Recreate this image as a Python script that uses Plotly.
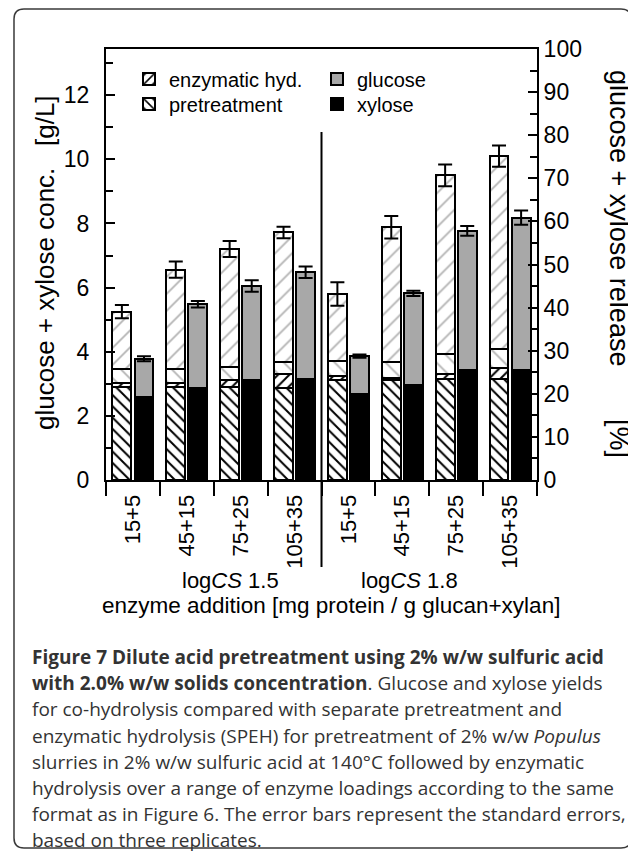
import plotly.graph_objects as go

# ---------------- data ----------------
categories = ["15+5", "45+15", "75+25", "105+35", "15+5", "45+15", "75+25", "105+35"]
group_labels = ["log<i>CS</i> 1.5", "log<i>CS</i> 1.8"]

# SPEH bars (left of each pair), g/L
pre_xylose = [2.90, 2.90, 2.90, 2.88, 3.12, 3.13, 3.15, 3.15]
enz_xylose = [0.13, 0.13, 0.21, 0.42, 0.11, 0.06, 0.17, 0.35]
pre_glucose = [0.42, 0.44, 0.42, 0.38, 0.48, 0.49, 0.62, 0.58]
enz_glucose = [1.80, 3.09, 3.67, 4.04, 2.09, 4.20, 5.56, 6.02]
speh_err = [0.21, 0.25, 0.25, 0.18, 0.37, 0.35, 0.34, 0.33]

# co-hydrolysis bars (right of each pair), g/L
co_xylose = [2.59, 2.87, 3.11, 3.15, 2.69, 2.95, 3.44, 3.42]
co_glucose = [1.19, 2.61, 2.94, 3.33, 1.17, 2.87, 4.33, 4.76]
co_err = [0.08, 0.10, 0.18, 0.18, 0.05, 0.08, 0.15, 0.22]

conc_max = 13.44      # g/L that corresponds to 100 % release
pct_max = 100

caption_lines = [
    "<b>Figure 7 Dilute acid pretreatment using 2% w/w sulfuric acid</b>",
    "<b>with 2.0% w/w solids concentration</b>. Glucose and xylose yields",
    "for co-hydrolysis compared with separate pretreatment and",
    "enzymatic hydrolysis (SPEH) for pretreatment of 2% w/w <i>Populus</i>",
    "slurries in 2% w/w sulfuric acid at 140°C followed by enzymatic",
    "hydrolysis over a range of enzyme loadings according to the same",
    "format as in Figure 6. The error bars represent the standard errors,",
    "based on three replicates.",
]

# ---------------- layout geometry ----------------
OFF = 8                      # page margin of the html body
W, H = 628, 844
L, R, T, B = 98, 99, 41, 372
PW, PH = W - L - R, H - T - B
FONT = "Liberation Sans, Arial, sans-serif"


def px(xp):   # page x pixel -> paper
    return (xp - OFF - L) / PW


def py(yp):   # page y pixel -> paper
    return (H - B - (yp - OFF)) / PH


n = len(categories)
idx = list(range(n))
off = 0.205
bw = 0.35
x_left = [i - off for i in idx]
x_right = [i + off for i in idx]

GRAY_LINE = "#b4b4b4"
GLU_FILL = "#a8a8a8"
edge = dict(color="black", width=2)

fig = go.Figure()


def hatch(shape, color, size, solidity):
    return dict(shape=shape, fgcolor=color, bgcolor="white", size=size,
                solidity=solidity, fillmode="replace")


fig.add_trace(go.Bar(x=x_left, y=pre_xylose, width=bw, name="pretreatment",
                     marker=dict(color="white", line=edge,
                                 pattern=hatch("\\", "black", 8, 0.25)),
                     legend="legend2", showlegend=True))
fig.add_trace(go.Bar(x=x_left, y=enz_xylose, width=bw, name="enzymatic hyd.",
                     marker=dict(color="white", line=edge,
                                 pattern=hatch("/", "black", 8, 0.25)),
                     legend="legend", showlegend=True))
fig.add_trace(go.Bar(x=x_left, y=pre_glucose, width=bw, name="pre glucose",
                     marker=dict(color="white", line=edge,
                                 pattern=hatch("\\", GRAY_LINE, 12, 0.15)),
                     showlegend=False))
fig.add_trace(go.Bar(x=x_left, y=enz_glucose, width=bw, name="enz glucose",
                     marker=dict(color="white", line=edge,
                                 pattern=hatch("/", GRAY_LINE, 12, 0.15)),
                     error_y=dict(type="data", array=speh_err, color="black",
                                  thickness=2, width=7),
                     showlegend=False))
fig.add_trace(go.Bar(x=x_right, y=co_xylose, width=bw, name="xylose",
                     marker=dict(color="black", line=edge),
                     legend="legend4", showlegend=True))
fig.add_trace(go.Bar(x=x_right, y=co_glucose, width=bw, name="glucose",
                     marker=dict(color=GLU_FILL, line=edge),
                     error_y=dict(type="data", array=co_err, color="black",
                                  thickness=2, width=7),
                     legend="legend3", showlegend=True))

# invisible trace to anchor the % axis
fig.add_trace(go.Scatter(x=[None], y=[None], yaxis="y2", showlegend=False,
                         hoverinfo="skip"))

boundaries = [i - 0.5 for i in range(n + 1)]

shapes = [
    # divider between logCS groups
    dict(type="line", xref="x", yref="paper", x0=(n - 1) / 2, x1=(n - 1) / 2,
         y0=py(567), y1=py(132), line=dict(color="black", width=2)),
]

# rounded frame around the whole figure (page coords)
fx0, fy0, fx1, fy1, rr = 14, 9, 631, 848, 10
p = lambda a, b: f"{px(a):.5f},{py(b):.5f}"
frame_path = (f"M{p(fx0 + rr, fy0)} L{p(fx1 - rr, fy0)} Q{p(fx1, fy0)} {p(fx1, fy0 + rr)} "
              f"L{p(fx1, fy1 - rr)} Q{p(fx1, fy1)} {p(fx1 - rr, fy1)} "
              f"L{p(fx0 + rr, fy1)} Q{p(fx0, fy1)} {p(fx0, fy1 - rr)} "
              f"L{p(fx0, fy0 + rr)} Q{p(fx0, fy0)} {p(fx0 + rr, fy0)} Z")
shapes.append(dict(type="path", xref="paper", yref="paper", path=frame_path,
                   line=dict(color="#3a3a3a", width=1.5)))

annotations = [
    dict(text="glucose + xylose conc.\u00a0\u00a0\u00a0[g/L]", textangle=-90,
         x=px(45), y=py(263), xref="paper", yref="paper", showarrow=False,
         xanchor="center", yanchor="middle", font=dict(size=26, family=FONT, color="black")),
    dict(text="glucose + xylose release\u00a0\u00a0\u00a0\u00a0\u00a0\u00a0\u00a0[%]", textangle=90,
         x=px(619), y=py(264), xref="paper", yref="paper", showarrow=False,
         xanchor="center", yanchor="middle", font=dict(size=27, family=FONT, color="black")),
    dict(text=group_labels[0], x=px(230), y=py(580), xref="paper", yref="paper",
         showarrow=False, xanchor="center", yanchor="middle",
         font=dict(size=22, family=FONT, color="black")),
    dict(text=group_labels[1], x=px(409), y=py(580), xref="paper", yref="paper",
         showarrow=False, xanchor="center", yanchor="middle",
         font=dict(size=22, family=FONT, color="black")),
    dict(text="enzyme addition [mg protein / g glucan+xylan]", x=px(331), y=py(605),
         xref="paper", yref="paper", showarrow=False, xanchor="center", yanchor="middle",
         font=dict(size=22.5, family=FONT, color="black")),
]

for k, line in enumerate(caption_lines):
    annotations.append(dict(text=line, x=px(30), y=py(657 + 26.2 * k), xref="paper",
                            yref="paper", showarrow=False, xanchor="left",
                            yanchor="middle", align="left",
                            font=dict(size=19, family="Open Sans, sans-serif",
                                      color="#333333")))


def leg(xp, yp):
    return dict(x=px(xp), y=py(yp), xanchor="left", yanchor="middle",
                bgcolor="rgba(0,0,0,0)", font=dict(size=20, family=FONT, color="black"))


fig.update_layout(
    width=W, height=H,
    margin=dict(l=L, r=R, t=T, b=B, pad=0),
    paper_bgcolor="white", plot_bgcolor="white",
    barmode="relative", bargap=0,
    font=dict(family=FONT, size=22, color="black"),
    xaxis=dict(range=[-0.5, n - 0.5], tickmode="array", tickvals=idx,
               ticktext=categories, tickangle=-90, ticks="outside", ticklen=4,
               tickcolor="rgba(0,0,0,0)", showline=True, linecolor="black",
               linewidth=2, mirror=True, showgrid=False, zeroline=False,
               tickfont=dict(size=22, family=FONT, color="black"),
               minor=dict(tickmode="array", tickvals=boundaries, ticks="outside",
                          ticklen=14, tickwidth=2, tickcolor="black", showgrid=False)),
    yaxis=dict(range=[0, conc_max], tickmode="linear", tick0=0, dtick=2,
               ticks="inside", ticklen=9, tickwidth=2, tickcolor="black",
               showline=True, linecolor="black", linewidth=2, showgrid=False,
               zeroline=False, tickfont=dict(size=23, family=FONT, color="black"),
               ticklabelstandoff=10,
               minor=dict(dtick=1, ticks="inside", ticklen=7, tickwidth=2,
                          tickcolor="black", showgrid=False)),
    yaxis2=dict(range=[0, pct_max], overlaying="y", side="right", anchor="x",
                tickmode="linear", tick0=0, dtick=10, ticks="inside", ticklen=9,
                tickwidth=2, tickcolor="black", showline=True, linecolor="black",
                linewidth=2, showgrid=False, zeroline=False,
                tickfont=dict(size=23, family=FONT, color="black"),
                minor=dict(dtick=5, ticks="inside", ticklen=7, tickwidth=2,
                           tickcolor="black", showgrid=False)),
    legend=leg(129, 79),
    legend2=leg(129, 104),
    legend3=leg(317, 79),
    legend4=leg(317, 104),
    shapes=shapes,
    annotations=annotations,
)

fig.write_html("out.html")
